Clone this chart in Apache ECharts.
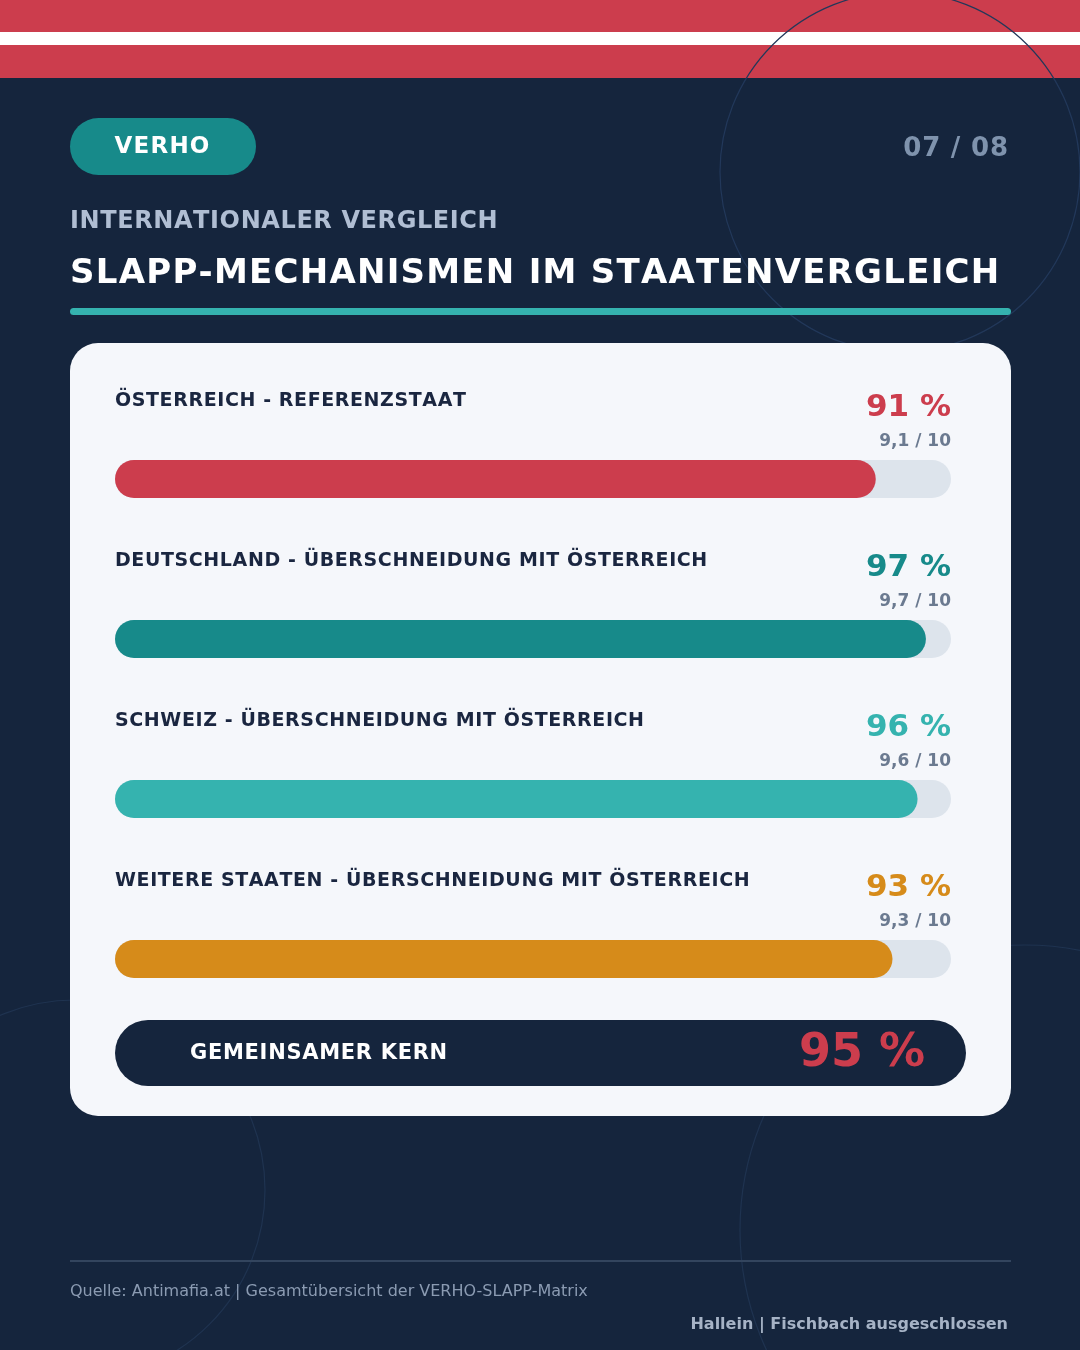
<!DOCTYPE html>
<html><head><meta charset="utf-8">
<script src="https://cdn.jsdelivr.net/npm/echarts@6/dist/echarts.min.js"></script>
<style>html,body{margin:0;padding:0;background:#15253D;}#c{width:1080px;height:1350px;}</style>
</head><body><div id="c"></div>
<script>
const categories = ['ÖSTERREICH - REFERENZSTAAT','DEUTSCHLAND - ÜBERSCHNEIDUNG MIT ÖSTERREICH','SCHWEIZ - ÜBERSCHNEIDUNG MIT ÖSTERREICH','WEITERE STAATEN - ÜBERSCHNEIDUNG MIT ÖSTERREICH'];
const percentValues = [91, 97, 96, 93];
const scoreLabels = ['9,1 / 10','9,7 / 10','9,6 / 10','9,3 / 10'];
const barColors = ['#CC3D4D','#178A8A','#35B3AF','#D68B1A'];
const coreLabel = 'GEMEINSAMER KERN';
const coreValue = 95;
const axisMax = 100;

const F = '"DejaVu Sans", sans-serif';
const chart = echarts.init(document.getElementById('c'), null, {renderer:'canvas', width:1080, height:1350});

const mctx = document.createElement('canvas').getContext('2d');
function spaced(str, x, y, font, color, spacing, align, z){
  mctx.font = font;
  const chars = Array.from(str);
  const adv = chars.map(ch => mctx.measureText(ch).width);
  const total = adv.reduce((a,b)=>a+b,0) + (chars.length-1)*spacing;
  let sx = x;
  if (align === 'right') sx = x - total;
  else if (align === 'center') sx = x - total/2;
  const children = [];
  let px = sx;
  chars.forEach((ch,i)=>{
    if (ch !== ' ') children.push({type:'text', x:px, y:y, z:z, style:{text:ch, fill:color, font:font, align:'left', verticalAlign:'middle'}});
    px += adv[i] + spacing;
  });
  return {type:'group', children:children};
}

const valueData = percentValues.map((v,i)=>({value:v, itemStyle:{color:barColors[i]}}));
const pctData = percentValues.map((v,i)=>({
  value: axisMax,
  label:{show:true, position:[836,-52], align:'right', verticalAlign:'middle', formatter: v+' %',
    color:barColors[i], fontFamily:F, fontWeight:'bold', fontSize:31}
}));
const scoreData = scoreLabels.map((s,i)=>({
  value: axisMax,
  label:{show:true, position:[836,-18], align:'right', verticalAlign:'middle', formatter: s,
    color:'#6B7A90', fontFamily:F, fontWeight:'bold', fontSize:17}
}));

const option = {
  backgroundColor:'#15253D',
  animation:false,
  grid:{left:115, right:129, top:399, height:640, containLabel:false},
  xAxis:{type:'value', min:0, max:axisMax, show:false},
  yAxis:{type:'category', data:categories, inverse:true, show:false},
  series:[
    {type:'bar', name:'track', data:categories.map(()=>axisMax), barWidth:38, barGap:'-100%', silent:true, z:5,
      itemStyle:{color:'#DDE4EC', borderRadius:19}},
    {type:'bar', name:'value', data:valueData, barWidth:38, barGap:'-100%', silent:true, z:6,
      itemStyle:{borderRadius:19}},
    {type:'bar', name:'pct', data:pctData, barWidth:38, barGap:'-100%', silent:true, z:7,
      itemStyle:{color:'rgba(0,0,0,0)'}},
    {type:'bar', name:'score', data:scoreData, barWidth:38, barGap:'-100%', silent:true, z:7,
      itemStyle:{color:'rgba(0,0,0,0)'}}
  ]
};
chart.setOption(option);

const graphics = [
  {type:'circle', shape:{cx:900, cy:172, r:180}, style:{fill:'none', stroke:'#22385A', lineWidth:1.2}, z:1},
  {type:'circle', shape:{cx:75, cy:1190, r:190}, style:{fill:'none', stroke:'#1F3350', lineWidth:1.2}, z:1},
  {type:'circle', shape:{cx:1025, cy:1230, r:285}, style:{fill:'none', stroke:'#1F3350', lineWidth:1.2}, z:1},
  {type:'rect', shape:{x:0,y:0,width:1080,height:78}, style:{fill:'#CC3D4D'}, z:0},
  {type:'rect', shape:{x:0,y:32,width:1080,height:13}, style:{fill:'#FFFFFF'}, z:0},
  {type:'rect', shape:{x:70,y:118,width:186,height:57,r:28.5}, style:{fill:'#178A8A'}, z:2},
  spaced('VERHO', 162, 147, 'bold 23px '+F, '#FFFFFF', 1.2, 'center', 3),
  spaced('07 / 08', 1008, 149, 'bold 26px '+F, '#7F93AD', 0.8, 'right', 3),
  spaced('INTERNATIONALER VERGLEICH', 70, 222, 'bold 24px '+F, '#B0BED3', 0.6, 'left', 3),
  spaced('SLAPP-MECHANISMEN IM STAATENVERGLEICH', 70, 274, 'bold 34px '+F, '#FFFFFF', 1.25, 'left', 3),
  {type:'rect', shape:{x:70,y:308,width:941,height:7,r:3.5}, style:{fill:'#35B3AF'}, z:3},
  {type:'rect', shape:{x:70,y:343,width:941,height:773,r:28}, style:{fill:'#F5F7FB'}, z:2},
  {type:'rect', shape:{x:115,y:1020,width:851,height:66,r:33}, style:{fill:'#15253D'}, z:3},
  spaced(coreLabel, 190, 1054, 'bold 21px '+F, '#FFFFFF', 0.7, 'left', 4),
  {type:'text', x:925, y:1054, style:{text:coreValue+' %', fill:'#CC3D4D', font:'bold 46px '+F, align:'right', verticalAlign:'middle'}, z:4},
  {type:'rect', shape:{x:70,y:1260,width:941,height:2}, style:{fill:'#33455E'}, z:3},
  {type:'text', x:70, y:1292, style:{text:'Quelle: Antimafia.at | Gesamtübersicht der VERHO-SLAPP-Matrix', fill:'#8B9BB2', font:'16px '+F, align:'left', verticalAlign:'middle'}, z:3},
  {type:'text', x:1008, y:1325, style:{text:'Hallein | Fischbach ausgeschlossen', fill:'#A6B3C6', font:'bold 16px '+F, align:'right', verticalAlign:'middle'}, z:3}
];
categories.forEach((c,i)=>{
  const cy = chart.convertToPixel({yAxisIndex:0}, c);
  const x0 = chart.convertToPixel({xAxisIndex:0}, 0);
  graphics.push(spaced(c, x0, cy - 78, 'bold 19px '+F, '#1A2640', 0.6, 'left', 6));
});
chart.setOption({graphic: graphics});
</script></body></html>
